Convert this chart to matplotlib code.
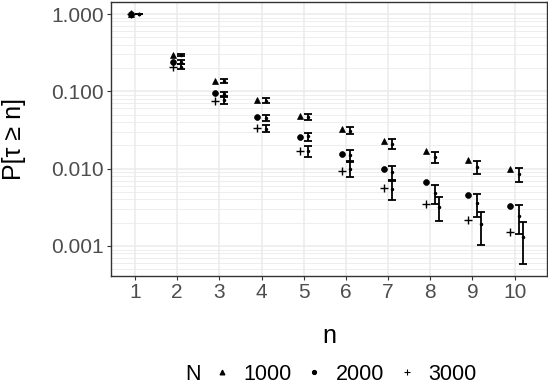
import numpy as np
import matplotlib
matplotlib.use('Agg')
from matplotlib import pyplot as plt
from matplotlib.lines import Line2D

plt.rcParams['font.family'] = ['Liberation Sans', 'DejaVu Sans']

n = np.arange(1, 11)
groups = ['1000', '2000', '3000']

# observed points
pt_1000 = [1.0, 0.292, 0.137, 0.077, 0.048, 0.0322, 0.0228, 0.0171, 0.0128, 0.0100]
pt_2000 = [1.0, 0.242, 0.094, 0.0466, 0.0259, 0.0156, 0.0099, 0.0067, 0.0046, 0.0033]
pt_3000 = [1.0, 0.208, 0.075, 0.0336, 0.0168, 0.0094, 0.0056, 0.0035, 0.0022, 0.0015]

# estimates with intervals
est_1000 = [1.0, 0.295, 0.136, 0.076, 0.0466, 0.0307, 0.0208, 0.0140, 0.0106, 0.00853]
lo_1000 = [1.0, 0.286, 0.128, 0.0706, 0.0426, 0.0278, 0.0181, 0.0117, 0.00853, 0.00667]
hi_1000 = [1.0, 0.304, 0.144, 0.082, 0.0514, 0.0349, 0.0240, 0.0166, 0.0127, 0.0103]

est_2000 = [1.0, 0.239, 0.0923, 0.0452, 0.0261, 0.0150, 0.00897, 0.00480, 0.00356, 0.00244]
lo_2000 = [1.0, 0.226, 0.0862, 0.0409, 0.0230, 0.0121, 0.00692, 0.00346, 0.00235, 0.00143]
hi_2000 = [1.0, 0.254, 0.0989, 0.0494, 0.0292, 0.0174, 0.0109, 0.00621, 0.00470, 0.00339]

est_3000 = [1.0, 0.208, 0.0773, 0.0326, 0.0169, 0.0099, 0.00541, 0.00322, 0.00191, 0.00132]
lo_3000 = [1.0, 0.194, 0.0692, 0.0295, 0.0143, 0.00787, 0.00390, 0.00208, 0.00104, 0.000585]
hi_3000 = [1.0, 0.224, 0.0853, 0.0364, 0.0195, 0.0126, 0.00707, 0.00434, 0.00277, 0.00202]

points = [pt_1000, pt_2000, pt_3000]
ests = [est_1000, est_2000, est_3000]
lows = [lo_1000, lo_2000, lo_3000]
highs = [hi_1000, hi_2000, hi_3000]
markers = ['^', 'o', '+']
msizes = [5, 4.2, 6]

fig = plt.figure(figsize=(5.48, 3.84), dpi=100)
ax = fig.add_axes([0.2026, 0.28125, 0.795, 0.7135])

for k in range(3):
    pts = np.array(points[k])
    est = np.array(ests[k])
    lo = np.array(lows[k])
    hi = np.array(highs[k])
    ax.plot(n - 0.1, pts, linestyle='none', marker=markers[k], ms=msizes[k],
            color='black', mew=1 if k == 2 else 0.5, zorder=3)
    dx = np.where((k == 2) & (n >= 8), 0.2, 0.1)
    ax.errorbar(n + dx, est, yerr=[est - lo, hi - est], fmt='o', ms=1.5,
                color='black', ecolor='black', elinewidth=1.3, capsize=3,
                capthick=1.3, zorder=3)

ax.set_yscale('log')
ax.set_ylim(10 ** -3.388, 10 ** 0.155)
ax.set_xlim(0.43, 10.76)
ax.set_xticks(n)
ax.set_xticklabels([str(i) for i in n])
ax.set_yticks([1, 0.1, 0.01, 0.001])
ax.set_yticklabels(['1.000', '0.100', '0.010', '0.001'])
ax.minorticks_on()
ax.xaxis.set_minor_locator(plt.NullLocator())
ax.tick_params(which='minor', left=False)
ax.tick_params(which='major', length=3, color='#333333', labelsize=15,
               labelcolor='#4D4D4D', pad=2)
ax.grid(which='major', color='#EBEBEB', lw=1.1)
ax.grid(which='minor', axis='y', color='#EBEBEB', lw=0.6)
ax.set_axisbelow(True)
for s in ax.spines.values():
    s.set_color('#333333')
    s.set_linewidth(1)

ax.set_xlabel('n', fontsize=18, labelpad=16)
ax.set_ylabel('P[τ ≥ n]', fontsize=18, labelpad=18)

handles = [Line2D([], [], linestyle='none', marker=m, ms=s * 0.7, color='black',
                  mew=0.8) for m, s in zip(markers, msizes)]
fig.text(0.3527, 0.0247, 'N', fontsize=15.5, ha='center', va='center')
fig.legend(handles, groups, loc='center left', bbox_to_anchor=(0.3887, 0.0247),
           ncol=3, frameon=False, fontsize=15.5, handlelength=0.8,
           handletextpad=0.6, columnspacing=0.65, borderpad=0,
           borderaxespad=0)

fig.savefig('out.png', dpi=100)
